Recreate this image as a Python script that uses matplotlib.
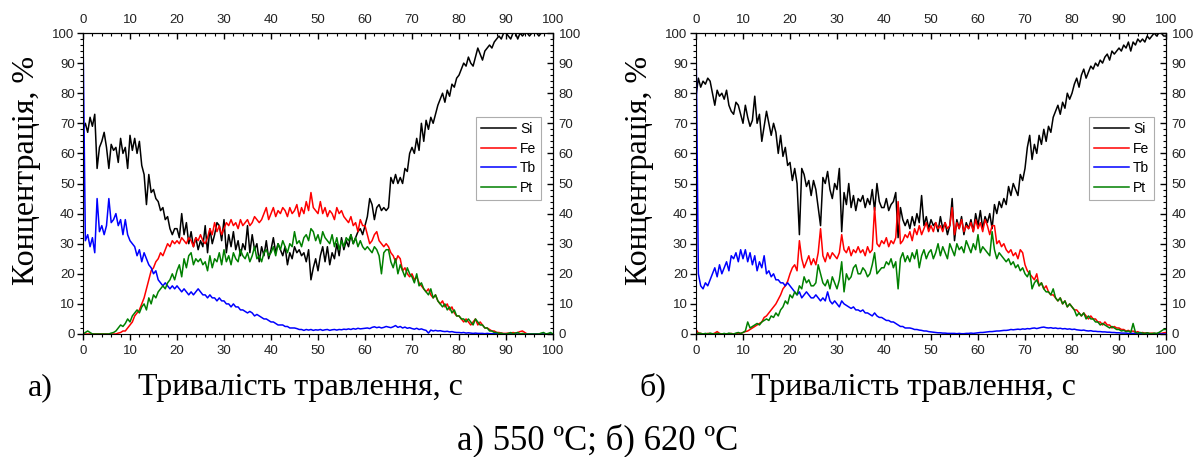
import matplotlib

matplotlib.use("Agg")

import matplotlib.pyplot as plt
import numpy as np
from matplotlib.ticker import MultipleLocator

# time grid, 0.5 s step
t = np.arange(0, 100.5, 0.5)

# 550 C sample
si_550 = [
    68, 70, 67, 72, 69, 73, 55, 62, 64, 67,
    62, 55, 63, 61, 62, 57, 65, 60, 62, 55,
    66, 61, 65, 60, 64, 56, 53, 43, 53, 47,
    48, 45, 44, 41, 42, 38, 39, 35, 33, 35,
    35, 32, 40, 33, 37, 30, 34, 29, 32, 28,
    31, 29, 36, 27, 35, 30, 33, 37, 36, 31,
    38, 27, 33, 29, 34, 28, 31, 26, 30, 28,
    36, 27, 33, 28, 30, 24, 29, 26, 31, 25,
    28, 32, 27, 30, 28, 26, 29, 23, 27, 25,
    29, 27, 28, 26, 27, 24, 28, 18, 22, 25,
    21, 26, 29, 24, 29, 23, 27, 25, 30, 26,
    32, 28, 31, 29, 33, 30, 32, 34, 35, 33,
    36, 39, 45, 43, 38, 42, 43, 41, 42, 41,
    42, 52, 50, 53, 50, 52, 50, 55, 54, 60,
    62, 60, 65, 61, 70, 64, 71, 68, 72, 70,
    73, 76, 78, 80, 77, 81, 79, 83, 82, 85,
    86, 88, 90, 89, 92, 90, 89, 92, 95, 93,
    91, 94, 95, 96, 95, 97, 98, 99, 98, 100,
    100, 99, 98, 100, 100, 98, 100, 99, 100, 100,
    99, 100, 100, 100, 99, 100, 100, 100, 100, 100,
    100,
]
fe_550 = [
    0, 0, 0, 0, 0, 0, 0, 0, 0, 0,
    0, 0, 0, 0, 0, 0.3, 0.5, 1, 1, 2,
    3, 4, 6, 7, 8, 10, 12, 15, 18, 21,
    22, 24, 25, 27, 26, 28, 30, 29, 31, 30,
    31, 30, 32, 31, 30, 32, 31, 29, 32, 31,
    33, 31, 30, 32, 35, 33, 37, 34, 36, 33,
    35, 37, 36, 38, 36, 37, 35, 38, 36, 37,
    38, 36, 37, 39, 38, 37, 38, 40, 42, 38,
    40, 42, 39, 41, 40, 42, 41, 39, 42, 40,
    41, 43, 39, 42, 40, 44, 41, 47, 42, 41,
    40, 44, 40, 42, 39, 41, 40, 38, 42, 40,
    41, 39, 38, 37, 39, 36, 37, 34, 38, 36,
    36, 33, 30, 31, 33, 34, 31, 30, 29, 30,
    29, 27, 26, 24, 26, 25, 21, 22, 20, 19,
    20, 18, 19, 17, 16, 15, 14, 15, 13, 12,
    13, 11, 10, 11, 9, 10, 8, 9, 7, 6,
    6, 5, 4, 5, 4, 3, 4, 5, 3, 4,
    3, 2, 2, 1.5, 1, 1, 0.5, 0.5, 0.3, 0.2,
    0.2, 0.3, 0.2, 0.5, 0.3, 0.5, 0.8, 1, 0.5, 0,
    0, 0, 0, 0, 0, 0, 0, 0, 0, 0,
    0,
]
tb_550 = [
    100, 31, 33, 29, 32, 27, 45, 34, 36, 33,
    36, 45, 37, 38, 40, 36, 38, 33, 38, 33,
    31, 30, 29, 26, 28, 24, 27, 25, 23, 22,
    20, 21, 18, 17, 16, 17, 16, 15, 16, 15,
    16, 15, 14, 15, 14, 13, 14, 13, 14, 15,
    14, 13, 13, 12, 13, 12, 12, 11, 12, 11,
    11, 10, 10, 9, 10, 9, 9, 8, 8, 7.5,
    7, 7.5, 7, 6, 6.5, 6, 5.5, 5, 5, 4.5,
    4, 4, 3.5, 3, 3, 3, 2.5, 2.5, 2, 2,
    2, 1.8, 1.5, 1.5, 1.2, 1.5, 1.3, 1.5, 1.2, 1.4,
    1.3, 1.5, 1.2, 1.4, 1.5, 1.2, 1.4, 1.5, 1.3, 1.5,
    1.4, 1.6, 1.5, 1.7, 1.5, 1.8, 1.6, 1.9, 1.7, 1.8,
    1.9, 2.0, 1.8, 2.2, 2.4, 2.1, 2.3, 2.0, 2.2, 2.5,
    2.3, 2.1, 2.4, 2.8, 2.2, 2.5, 2.0, 2.3, 1.9, 2.1,
    1.8, 1.6, 1.9, 1.5, 1.7, 1.4, 1.2, 0.3, 1.3, 1.0,
    1.2, 1.0, 1.1, 0.9, 0.8, 0.9, 0.7, 0.8, 0.6, 0.5,
    0.5, 0.4, 0.5, 0.3, 0.4, 0.3, 0.2, 0.3, 0.2, 0.2,
    0.2, 0.1, 0.2, 0.1, 0.1, 0.1, 0.1, 0, 0.1, 0,
    0, 0, 0, 0, 0, 0, 0, 0, 0, 0,
    0, 0, 0, 0, 0, 0, 0, 0, 0, 0,
    0,
]
pt_550 = [
    0, 0.5, 1, 0.5, 0, 0, 0, 0, 0, 0,
    0, 0, 0.3, 0.5, 1, 2, 3, 2.5, 3.5, 5,
    4, 6, 7, 8, 7, 9, 10, 8, 12, 10,
    13, 12, 14, 15, 16, 15, 17, 18, 20, 18,
    21, 23, 19, 25, 22, 26, 27, 23, 25, 24,
    25, 23, 24, 21, 26, 22, 25, 24, 27, 23,
    28, 24, 26, 23, 27, 25, 24, 28, 26, 25,
    27, 24, 26, 29, 25, 26, 24, 27, 28, 26,
    27, 29, 26, 30, 28, 31, 29, 27, 30, 29,
    34, 30, 31, 29, 32, 33, 31, 35, 34, 31,
    33, 30, 34, 32, 31, 30, 33, 29, 32, 28,
    31, 29, 32, 31, 33, 30, 32, 29, 31, 29,
    28, 29, 28, 27, 29, 28, 26, 20, 27, 28,
    28, 24, 22, 25, 20, 23, 21, 19, 22, 20,
    19, 17, 20, 16, 17, 15, 14, 13, 15, 12,
    13, 11, 10, 9, 10, 8, 9, 7, 8, 6,
    6, 5, 5, 4, 5, 4, 3, 5, 4, 3,
    3, 2, 2, 1, 1, 0.5, 0.5, 0.2, 0.3, 0,
    0, 0.2, 0.5, 0, 0.3, 0.5, 0, 0.2, 0, 0,
    0, 0, 0, 0, 0, 0.3, 0.5, 0, 0.2, 0.5,
    0,
]

# 620 C sample
si_620 = [
    79, 85, 82, 84, 83, 85, 84, 80, 76, 81,
    79, 80, 78, 81, 76, 74, 73, 77, 76, 73,
    70, 76, 72, 69, 71, 79, 70, 73, 64, 69,
    74, 70, 66, 70, 67, 60, 66, 59, 62, 56,
    57, 51, 55, 50, 33, 55, 53, 49, 51, 46,
    51, 48, 42, 36, 52, 50, 54, 48, 45, 50,
    48, 55, 34, 47, 43, 50, 42, 46, 41, 45,
    44, 46, 42, 45, 43, 48, 41, 50, 44, 42,
    42, 45, 41, 43, 44, 47, 32, 42, 38, 36,
    38, 35, 39, 36, 40, 37, 46, 36, 39, 35,
    38, 36, 37, 34, 39, 35, 37, 33, 36, 45,
    31, 38, 35, 39, 33, 37, 35, 38, 34, 40,
    36, 41, 35, 39, 37, 40, 35, 43, 40, 44,
    42, 45, 43, 49, 46, 50, 48, 46, 53, 51,
    55, 62, 66, 58, 63, 60, 66, 63, 68, 64,
    69, 67, 72, 74, 76, 73, 77, 75, 80, 78,
    80, 83, 85, 82, 86, 88, 85, 87, 89, 88,
    90, 89, 91, 90, 92, 93, 91, 94, 93, 94,
    95, 94, 96, 95, 97, 94, 97, 96, 98, 97,
    98, 97, 99, 98, 99, 100, 99, 100, 100, 99,
    99,
]
fe_620 = [
    1.5, 0.3, 0.2, 0, 0, 0.2, 0.1, 0, 0.3, 0.8,
    0.2, 0, 0, 0.1, 0, 0.2, 0, 0.1, 0.3, 0.2,
    0.5, 0.8, 1, 1.5, 2, 2.5, 3, 3.5, 4, 5.5,
    6, 7, 8, 9, 10, 11.5, 13, 15, 16, 17.5,
    20, 22, 23, 21, 31, 25, 22, 24, 26, 23,
    25, 23, 27, 35, 26, 24, 27, 25, 27, 26,
    25, 27, 33, 28, 27, 29, 26, 28, 27, 29,
    27, 28, 26, 29, 27, 28, 42, 30, 29, 31,
    30, 32, 29, 31, 30, 32, 44, 30, 31, 33,
    32, 34, 31, 35, 33, 36, 33, 35, 37, 34,
    36, 34, 37, 35, 36, 34, 37, 35, 36, 42,
    33, 37, 35, 38, 34, 36, 35, 37, 34, 38,
    35, 37, 34, 38, 36, 33, 36, 36, 30, 31,
    29, 30, 28, 27, 28, 26, 27, 25, 28, 27,
    23, 21, 20, 19, 18, 20, 16, 17, 15, 16,
    14, 13, 13, 12, 11, 12, 10, 11, 9, 10,
    9, 8, 8, 7, 6, 7, 6, 5, 6, 5,
    5, 4, 4, 3, 4, 3, 3, 2, 2.5, 2,
    2, 1.5, 1.5, 1, 1.2, 0.8, 1, 0.5, 0.8, 0.3,
    0.5, 0.3, 0.4, 0.2, 0.3, 0.2, 0.1, 0.3, 0.2, 0.4,
    0.5,
]
tb_620 = [
    100, 20, 16, 15, 17, 16, 18, 20, 22, 19,
    23, 20, 22, 24, 21, 26, 25, 27, 24, 28,
    25, 28, 24, 27, 23, 26, 21, 24, 22, 26,
    20, 21, 19, 20, 18, 18, 17, 17, 16, 17,
    16, 15, 14, 13, 14, 12, 13, 14, 13, 12,
    12, 13, 12, 11, 12, 11, 14, 11, 10, 11,
    10, 9, 11, 10, 9.5, 9, 8.5, 9, 8, 8,
    7.5, 8, 7, 7, 6.5, 6, 7, 6, 5.5, 5.5,
    5, 4.5, 4.5, 4, 4, 3.5, 3, 2.5, 2.5, 2,
    2, 2, 1.8, 1.5, 1.5, 1.3, 1.2, 1, 1, 0.8,
    0.7, 0.6, 0.5, 0.4, 0.4, 0.3, 0.3, 0.2, 0.2, 0.2,
    0.2, 0.1, 0.2, 0.1, 0.1, 0.2, 0.2, 0.3, 0.2, 0.3,
    0.4, 0.5, 0.5, 0.6, 0.7, 0.8, 0.8, 0.9, 1.0, 1.0,
    1.1, 1.2, 1.2, 1.3, 1.5, 1.4, 1.5, 1.6, 1.5, 1.7,
    1.6, 1.8, 1.7, 1.9, 2.0, 1.8, 2.0, 2.2, 2.3, 2.1,
    2.0, 2.1, 1.9, 2.0, 1.8, 1.9, 1.7, 1.8, 1.6, 1.7,
    1.5, 1.6, 1.4, 1.3, 1.2, 1.3, 1.1, 1.0, 1.1, 0.9,
    0.9, 0.8, 0.8, 0.7, 0.7, 0.6, 0.6, 0.5, 0.5, 0.4,
    0.4, 0.3, 0.3, 0.3, 0.2, 0.2, 0.2, 0.1, 0.1, 0.1,
    0.1, 0.1, 0, 0.1, 0, 0, 0, 0, 0, 0,
    0,
]
pt_620 = [
    0, 0.3, 0.2, 0, 0.2, 0, 0.3, 0.1, 0, 0.2,
    0.1, 0, 0.2, 0, 0.3, 0.1, 0, 0.3, 0.5, 0.2,
    0.5, 1, 4, 2, 2.5, 3, 3.5, 3, 4, 4.5,
    5, 4.5, 6, 5.5, 7, 6, 8, 9, 11, 10,
    13, 12, 14, 13, 16, 15, 19, 17, 18, 16,
    16, 17, 23, 20, 17, 16, 18, 15, 19, 17,
    15, 18, 24, 14, 20, 18, 19, 22, 23, 20,
    20, 22, 21, 19, 20, 23, 27, 20, 21, 22,
    22, 24, 23, 25, 22, 24, 15, 25, 27, 24,
    26, 24, 27, 25, 28, 22, 26, 28, 25, 27,
    28, 25, 27, 30, 26, 29, 27, 25, 30, 28,
    26, 30, 28, 29, 27, 31, 29, 27, 30, 28,
    33, 27, 29, 28, 27, 26, 34, 28, 25, 27,
    26, 25, 24, 25, 23, 24, 22, 23, 21, 22,
    20, 19, 21, 15, 17, 18, 16, 17, 15, 14,
    14, 13, 15, 12, 11, 12, 10, 11, 9, 10,
    9, 8, 6, 7, 6, 7, 5, 6, 5, 5,
    4, 4, 3, 3.5, 3, 2.5, 2, 2.5, 2, 1.5,
    1.5, 1, 1.2, 0.8, 1, 0.5, 3.5, 0.5, 0.3, 0.5,
    0.3, 0.2, 0.4, 0.2, 0.1, 0.3, 0.2, 0.5, 1, 1.5,
    1.5,
]

elements = ["Si", "Fe", "Tb", "Pt"]
colors = ["#000000", "#ff0000", "#0000ff", "#008000"]
panels = [
    [si_550, fe_550, tb_550, pt_550],
    [si_620, fe_620, tb_620, pt_620],
]
panel_letters = ["а)", "б)"]
ticks = np.arange(0, 101, 10)

sans = "Liberation Sans"
serif = "Liberation Serif"
W, H = 1196, 457

fig = plt.figure(figsize=(W / 100, H / 100), dpi=100)

lefts = [83, 696]
for i, series in enumerate(panels):
    x0 = lefts[i]
    ax = fig.add_axes([x0 / W, (H - 334) / H, 470 / W, 301 / H])
    for vals, name, c in zip(series, elements, colors):
        ax.plot(t, vals, color=c, lw=1.1, label=name)
    ax.set_xlim(0, 100)
    ax.set_ylim(0, 100)
    ax.set_xticks(ticks)
    ax.set_yticks(ticks)
    ax.xaxis.set_minor_locator(MultipleLocator(2))
    ax.yaxis.set_minor_locator(MultipleLocator(2))
    ax.tick_params(which="major", direction="out", length=4, width=1, labelsize=9.5)
    ax.tick_params(which="minor", direction="out", length=2, width=0.8)
    ax.tick_params(axis="x", pad=4)
    ax.tick_params(axis="y", pad=2)
    for lab in ax.get_xticklabels() + ax.get_yticklabels():
        lab.set_fontfamily(sans)
        lab.set_color("#222222")

    # mirrored axes with labels on top and right
    top = ax.secondary_xaxis("top")
    right = ax.secondary_yaxis("right")
    top.set_xticks(ticks)
    right.set_yticks(ticks)
    top.xaxis.set_minor_locator(MultipleLocator(2))
    right.yaxis.set_minor_locator(MultipleLocator(2))
    for sec in (top, right):
        sec.tick_params(which="major", direction="in", length=4, width=1, labelsize=9.5)
        sec.tick_params(which="minor", direction="in", length=2, width=0.8)
    top.tick_params(pad=5)
    right.tick_params(pad=4)
    for lab in top.get_xticklabels() + right.get_yticklabels():
        lab.set_fontfamily(sans)
        lab.set_color("#222222")

    leg = ax.legend(
        loc="upper right",
        bbox_to_anchor=(0.975, 0.72),
        prop={"family": sans, "size": 10},
        frameon=True,
        fancybox=False,
        edgecolor="#999999",
        handlelength=2.5,
        handletextpad=0.3,
        borderpad=0.35,
        labelspacing=0.4,
        borderaxespad=0,
    )
    leg.get_frame().set_linewidth(0.8)

    fig.text((x0 + 217) / W, 1 - 395 / H, "Тривалість травлення, с",
             family=serif, fontsize=23, ha="center", va="baseline")
    fig.text((x0 - 43) / W, 1 - 395 / H, panel_letters[i],
             family=serif, fontsize=23, ha="center", va="baseline")
    fig.text((x0 - 56) / W, 1 - 170 / H, "Концентрація, %",
             family=serif, fontsize=23, rotation=90, ha="center", va="center")

fig.text(598 / W, 1 - 449 / H, "а) 550 ºC; б) 620 ºC",
         family=serif, fontsize=25, ha="center", va="baseline")

fig.savefig("out.png", dpi=100)
